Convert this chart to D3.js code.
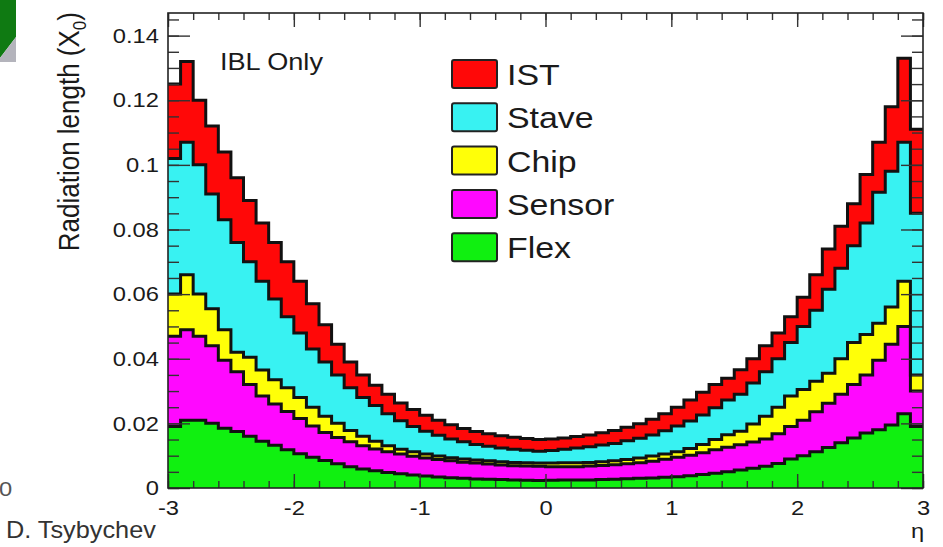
<!DOCTYPE html>
<html>
<head>
<meta charset="utf-8">
<script src="https://cdn.jsdelivr.net/npm/d3@7"></script>
<style>
body { margin: 0; background: #fff; }
svg { display: block; font-family: "Liberation Sans", Arial, Helvetica, sans-serif; }
</style>
</head>
<body>
<svg id="chart" width="943" height="547"></svg>
<script>
// stack order, bottom to top
const layerNames = ["Flex", "Sensor", "Chip", "Stave", "IST"];
const legendOrder = ["IST", "Stave", "Chip", "Sensor", "Flex"];
const layerColors = {IST: "#ff0808", Stave: "#38f2f2", Chip: "#ffff08", Sensor: "#ff08ff", Flex: "#10f010"};

// radiation length per component, 60 bins of 0.1 in eta from -3 to 3
const flex = [
  .0190, .0210, .0210, .0200, .0185, .0175, .0160, .0145, .0132, .0118,
  .0106, .0095, .0085, .0075, .0066, .0059, .0053, .0048, .0044, .0040,
  .0037, .0034, .0032, .0030, .0028, .0027, .0026, .0025, .0024, .0023,
  .0024, .0025, .0025, .0025, .0026, .0027, .0029, .0030, .0031, .0033,
  .0035, .0038, .0042, .0046, .0050, .0056, .0061, .0067, .0076, .0090,
  .0100, .0112, .0125, .0140, .0155, .0170, .0180, .0195, .0230, .0190];
const sensor = [
  .0280, .0280, .0260, .0240, .0210, .0185, .0160, .0140, .0128, .0119,
  .0109, .0097, .0087, .0081, .0077, .0072, .0068, .0064, .0061, .0058,
  .0056, .0054, .0052, .0050, .0049, .0047, .0045, .0044, .0044, .0044,
  .0042, .0041, .0041, .0043, .0044, .0045, .0046, .0048, .0052, .0056,
  .0060, .0063, .0067, .0072, .0076, .0078, .0081, .0085, .0092, .0100,
  .0110, .0124, .0137, .0150, .0165, .0180, .0215, .0250, .0270, .0110];
const chip = [
  .0130, .0170, .0130, .0115, .0095, .0060, .0085, .0080, .0075, .0073,
  .0065, .0058, .0050, .0044, .0035, .0029, .0024, .0019, .0015, .0014,
  .0012, .0011, .0010, .0010, .0010, .0010, .0010, .0010, .0010, .0010,
  .0011, .0012, .0012, .0011, .0011, .0012, .0013, .0015, .0016, .0016,
  .0017, .0021, .0026, .0032, .0039, .0042, .0056, .0070, .0082, .0095,
  .0095, .0094, .0093, .0110, .0130, .0125, .0115, .0115, .0140, .0050];
const stave = [
  .0420, .0410, .0400, .0355, .0340, .0340, .0295, .0275, .0250, .0220,
  .0200, .0180, .0168, .0150, .0132, .0120, .0110, .0099, .0088, .0078,
  .0071, .0064, .0058, .0053, .0048, .0045, .0043, .0041, .0039, .0037,
  .0039, .0042, .0046, .0049, .0052, .0054, .0058, .0061, .0065, .0072,
  .0080, .0085, .0091, .0098, .0107, .0114, .0127, .0138, .0150, .0165,
  .0195, .0220, .0260, .0280, .0300, .0345, .0405, .0420, .0430, .0500];
const ist = [
  .0230, .0250, .0200, .0210, .0210, .0200, .0190, .0180, .0175, .0170,
  .0160, .0140, .0115, .0095, .0080, .0070, .0063, .0060, .0055, .0053,
  .0049, .0047, .0044, .0041, .0040, .0039, .0038, .0037, .0036, .0036,
  .0036, .0035, .0035, .0036, .0038, .0040, .0042, .0045, .0049, .0053,
  .0058, .0065, .0070, .0072, .0068, .0076, .0075, .0080, .0080, .0080,
  .0090, .0110, .0125, .0130, .0130, .0150, .0155, .0200, .0260, .0260];

const yTicks = [0, 0.02, 0.04, 0.06, 0.08, 0.1, 0.12, 0.14];
const yTickLabels = ["0", "0.02", "0.04", "0.06", "0.08", "0.1", "0.12", "0.14"];
const xTicks = [-3, -2, -1, 0, 1, 2, 3];
const xTickLabels = ["-3", "-2", "-1", "0", "1", "2", "3"];

const frame = {left: 168, right: 923, top: 13, bottom: 488};
const stretch = "scale(1.13,1)";

const svg = d3.select("#chart");

const x = d3.scaleLinear().domain([-3, 3]).range([frame.left, frame.right]);
const y = d3.scaleLinear().domain([0, 0.147]).range([frame.bottom, frame.top]);

const nBins = flex.length;
const rows = d3.range(nBins).map(i => ({
  lo: -3 + i * 6 / nBins,
  hi: -3 + (i + 1) * 6 / nBins,
  Flex: flex[i], Sensor: sensor[i], Chip: chip[i], Stave: stave[i], IST: ist[i]
}));

const series = d3.stack().keys(layerNames)(rows);

// histogram steps: two points per bin
function steps(s) {
  let pts = [];
  s.forEach(d => {
    pts.push({x: d.data.lo, y0: d[0], y1: d[1]});
    pts.push({x: d.data.hi, y0: d[0], y1: d[1]});
  });
  return pts;
}

const area = d3.area().x(p => x(p.x)).y0(p => y(p.y0)).y1(p => y(p.y1));
const topLine = d3.line().x(p => x(p.x)).y(p => y(p.y1));

const plot = svg.append("g");

plot.selectAll(".band")
  .data(series)
  .join("path")
    .attr("class", "band")
    .attr("fill", s => layerColors[s.key])
    .attr("d", s => area(steps(s)));

plot.selectAll(".outline")
  .data(series)
  .join("path")
    .attr("class", "outline")
    .attr("fill", "none")
    .attr("stroke", "#111")
    .attr("stroke-width", 3)
    .attr("d", s => topLine(steps(s)));

// axes, ticks inward on all four sides
function styleAxis(g) {
  g.select(".domain").remove();
  g.selectAll(".tick line").attr("stroke", "#333").attr("stroke-width", 1.4);
}

const yMinor = d3.range(0, 0.1471, 0.005);
const xMinor = d3.range(-3, 3.001, 0.2);

svg.append("g")
  .attr("transform", `translate(${frame.left},0)`)
  .call(d3.axisLeft(y).tickValues(yMinor).tickSize(-11).tickFormat(""))
  .call(styleAxis);
svg.append("g")
  .attr("transform", `translate(${frame.right},0)`)
  .call(d3.axisRight(y).tickValues(yMinor).tickSize(-11).tickFormat(""))
  .call(styleAxis);
svg.append("g")
  .attr("transform", `translate(0,${frame.bottom})`)
  .call(d3.axisBottom(x).tickValues(xMinor).tickSize(-7).tickFormat(""))
  .call(styleAxis);
svg.append("g")
  .attr("transform", `translate(0,${frame.top})`)
  .call(d3.axisTop(x).tickValues(xMinor).tickSize(-7).tickFormat(""))
  .call(styleAxis);

const yAxis = svg.append("g")
  .attr("transform", `translate(${frame.left},0)`)
  .call(d3.axisLeft(y).tickValues(yTicks).tickSize(-22).tickPadding(8)
    .tickFormat((d, i) => yTickLabels[i]))
  .call(styleAxis);
yAxis.selectAll("text")
  .attr("font-size", 21).attr("fill", "#1a1a1a")
  .attr("font-family", "Liberation Sans, Arial, sans-serif")
  .attr("transform", stretch);

svg.append("g")
  .attr("transform", `translate(${frame.right},0)`)
  .call(d3.axisRight(y).tickValues(yTicks).tickSize(-22).tickFormat(""))
  .call(styleAxis);

const xAxis = svg.append("g")
  .attr("transform", `translate(0,${frame.bottom})`)
  .call(d3.axisBottom(x).tickValues(xTicks).tickSize(-14).tickPadding(12)
    .tickFormat((d, i) => xTickLabels[i]))
  .call(styleAxis);
xAxis.selectAll("text")
  .attr("font-size", 21).attr("fill", "#1a1a1a")
  .attr("font-family", "Liberation Sans, Arial, sans-serif")
  .attr("transform", stretch);

svg.append("g")
  .attr("transform", `translate(0,${frame.top})`)
  .call(d3.axisTop(x).tickValues(xTicks).tickSize(-14).tickFormat(""))
  .call(styleAxis);

svg.append("rect")
  .attr("x", frame.left).attr("y", frame.top)
  .attr("width", frame.right - frame.left).attr("height", frame.bottom - frame.top)
  .attr("fill", "none").attr("stroke", "#222").attr("stroke-width", 1.6);

// axis titles
const yTitle = svg.append("text")
  .attr("transform", "translate(79,12) scale(1.13,1) rotate(-90)")
  .attr("text-anchor", "end")
  .attr("font-size", 26).attr("fill", "#1a1a1a");
yTitle.append("tspan").text("Radiation length (X");
yTitle.append("tspan").attr("font-size", 17).attr("dy", 6).text("0");
yTitle.append("tspan").attr("dy", -6).text(")");

svg.append("text")
  .attr("transform", "translate(911,538) scale(1.13,1)")
  .attr("font-size", 21).attr("fill", "#1a1a1a")
  .text("η");

svg.append("text")
  .attr("transform", "translate(220,70) scale(1.13,1)")
  .attr("font-size", 24).attr("fill", "#1a1a1a")
  .text("IBL Only");

// legend
const legend = svg.append("g").attr("transform", "translate(452,60)");
const legendRows = legend.selectAll("g")
  .data(legendOrder)
  .join("g")
    .attr("transform", (d, i) => `translate(0,${i * 43.3})`);
legendRows.append("rect")
  .attr("width", 45).attr("height", 28).attr("rx", 2)
  .attr("fill", d => layerColors[d])
  .attr("stroke", "#222").attr("stroke-width", 2);
legendRows.append("text")
  .attr("transform", "translate(55,25) scale(1.13,1)")
  .attr("font-size", 30).attr("fill", "#1a1a1a")
  .text(d => d);

// slide leftovers around the plot
svg.append("polygon")
  .attr("points", "0,0 16,0 16,37 0,58")
  .attr("fill", "#0f7a12");
svg.append("polygon")
  .attr("points", "16,37 16,62 0,62 0,58")
  .attr("fill", "#b4b4bc");

svg.append("text")
  .attr("transform", "translate(-1,496) scale(1.13,1)")
  .attr("font-size", 21).attr("fill", "#555")
  .text("0");

svg.append("text")
  .attr("transform", "translate(6,538) scale(1.1,1)")
  .attr("font-size", 23).attr("fill", "#333")
  .text("D. Tsybychev");
</script>
</body>
</html>
